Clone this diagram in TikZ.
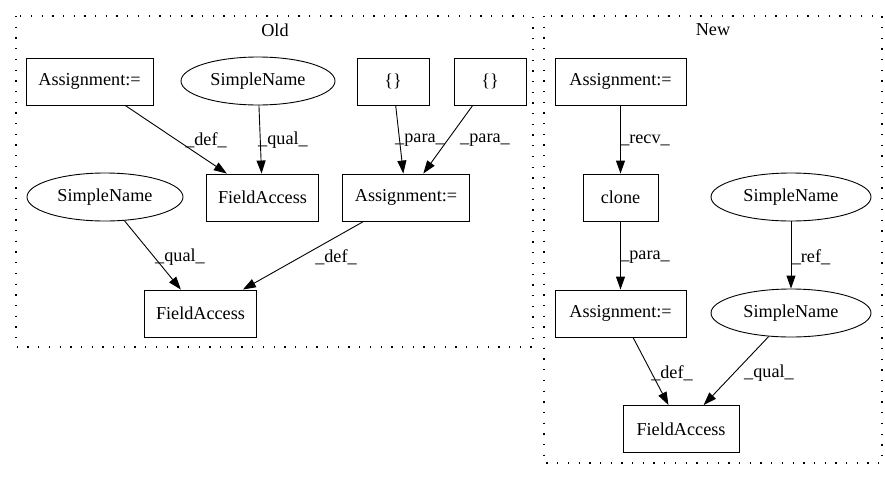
\documentclass[tikz,border=0pt]{standalone}
\usepackage{fontspec}
\setmainfont{Liberation Serif}
\usetikzlibrary{shapes.geometric,arrows.meta}
\begin{document}
\begin{tikzpicture}[x=1pt,y=-1pt,
  every node/.style={font=\fontsize{18.2pt}{21pt}\selectfont},
  box/.style={draw,line width=0.9pt,rectangle,minimum height=47pt,inner sep=0pt},
  oval/.style={draw,line width=0.9pt,ellipse,minimum height=48pt,inner sep=0pt},
  cluster/.style={draw,line width=1.3pt,dash pattern=on 1.3pt off 9.4pt},
  edge/.style={draw,line width=0.9pt,-{Triangle[length=13pt,width=9pt]}},
  lbl/.style={inner sep=0pt}]
\useasboundingbox (0,0) rectangle (885,480);
% clusters
\draw[cluster] (16,16) rectangle (533,347);
\node[lbl] (oldlbl) at (275,30) {Old};
\draw[cluster] (544,16) rectangle (882,463);
\node[lbl] (newlbl) at (713,30) {New};
% Old nodes
\node[box,minimum width=127pt] (oa1) at (89.5,81.5) {Assignment:=};
\node[oval,minimum width=154pt] (osn1) at (258,81) {SimpleName};
\node[box,minimum width=72pt] (ob1) at (393,81.5) {\{\}};
\node[box,minimum width=72pt] (ob2) at (490,81.5) {\{\}};
\node[box,minimum width=112pt] (ofa1) at (262.5,197.5) {FieldAccess};
\node[box,minimum width=127pt] (oa2) at (406,197.5) {Assignment:=};
\node[oval,minimum width=156pt] (osn2) at (105,197) {SimpleName};
\node[box,minimum width=112pt] (ofa2) at (200.5,313.5) {FieldAccess};
% Old edges
\draw[edge] (oa1) -- (ofa1) node[lbl] at (206,140) {\_def\_};
\draw[edge] (osn1) -- (ofa1) node[lbl] at (283,140) {\_qual\_};
\draw[edge] (ob1) -- (oa2) node[lbl] at (420,140) {\_para\_};
\draw[edge] (ob2) -- (oa2) node[lbl] at (485,140) {\_para\_};
\draw[edge] (osn2) -- (ofa2) node[lbl] at (180,257) {\_qual\_};
\draw[edge] (oa2) -- (ofa2) node[lbl] at (336,257) {\_def\_};
% New nodes
\node[box,minimum width=131pt] (na1) at (620.5,81.5) {Assignment:=};
\node[box,minimum width=75pt] (nc) at (620.5,197.5) {clone};
\node[oval,minimum width=160pt] (nsn1) at (791,197) {SimpleName};
\node[box,minimum width=131pt] (na2) at (620.5,313.5) {Assignment:=};
\node[oval,minimum width=160pt] (nsn2) at (791,313) {SimpleName};
\node[box,minimum width=116pt] (nfa) at (681,429) {FieldAccess};
% New edges
\draw[edge] (na1) -- (nc) node[lbl] at (645,140) {\_recv\_};
\draw[edge] (nc) -- (na2) node[lbl] at (645,257) {\_para\_};
\draw[edge] (nsn1) -- (nsn2) node[lbl] at (811,257) {\_ref\_};
\draw[edge] (na2) -- (nfa) node[lbl] at (672,373) {\_def\_};
\draw[edge] (nsn2) -- (nfa) node[lbl] at (769,373) {\_qual\_};
\end{tikzpicture}
\end{document}
